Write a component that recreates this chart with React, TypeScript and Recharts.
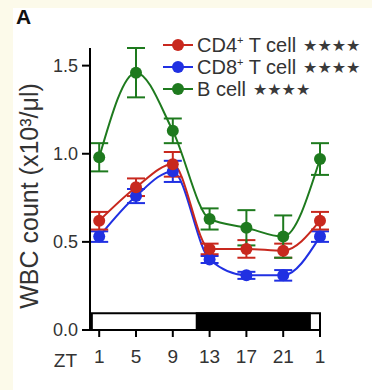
import {
  LineChart,
  Line,
  XAxis,
  YAxis,
  ErrorBar,
  ReferenceArea,
  Label,
  Legend,
} from "recharts";

// ZT hours (25 = ZT1 of the next day)
const ZT = [1, 5, 9, 13, 17, 21, 25];
const X_TICKS = [1, 5, 9, 13, 17, 21, 25];
const X_TICK_LABELS = ["1", "5", "9", "13", "17", "21", "1"];
const Y_TICKS = [0, 0.5, 1.0, 1.5];

const CD4 = [0.62, 0.81, 0.94, 0.46, 0.46, 0.45, 0.62];
const CD4_ERR = [0.05, 0.05, 0.07, 0.03, 0.05, 0.04, 0.05];
const CD8 = [0.53, 0.76, 0.9, 0.4, 0.31, 0.31, 0.53];
const CD8_ERR = [0.03, 0.04, 0.06, 0.02, 0.02, 0.03, 0.03];
const BCELL = [0.98, 1.46, 1.13, 0.63, 0.58, 0.53, 0.97];
const BCELL_ERR = [0.08, 0.14, 0.07, 0.06, 0.1, 0.12, 0.09];

// light / dark bar along the bottom (ZT hours)
const LIGHT_DARK = [
  { from: 0.2, to: 11.6, dark: false },
  { from: 11.6, to: 23.9, dark: true },
  { from: 23.9, to: 25, dark: false },
];
const BAR_Y = [0, 0.095];

const RED = "#c8281e";
const BLUE = "#2030e2";
const GREEN = "#1e7a1e";
const TEXT = "#333";
const FONT = "'Liberation Sans', Arial, sans-serif";

const SERIES = [
  { key: "cd8", err: "cd8Err", color: BLUE, name: "CD8", sup: "+" },
  { key: "cd4", err: "cd4Err", color: RED, name: "CD4", sup: "+" },
  { key: "b", err: "bErr", color: GREEN, name: "B cell", sup: "" },
];
const LEGEND_ORDER = ["cd4", "cd8", "b"];

const rows = ZT.map((zt, i) => ({
  zt,
  cd4: CD4[i],
  cd4Err: CD4_ERR[i],
  cd8: CD8[i],
  cd8Err: CD8_ERR[i],
  b: BCELL[i],
  bErr: BCELL_ERR[i],
}));

function LegendBox() {
  return (
    <svg width={210} height={70} style={{ display: "block", overflow: "visible" }}>
      {LEGEND_ORDER.map((k, i) => {
        const s = SERIES.find((x) => x.key === k)!;
        const y = 12 + i * 22;
        return (
          <g key={k}>
            <line x1={0} x2={30} y1={y} y2={y} stroke={s.color} strokeWidth={2} />
            <circle cx={15} cy={y} r={6} fill={s.color} />
            <text x={34} y={y + 7} fontSize={20} fill={TEXT} fontFamily={FONT}>
              {s.name}
              {s.sup && (
                <tspan fontSize={11} dy={-8}>
                  {s.sup}
                </tspan>
              )}
              {s.sup && <tspan dy={8}> T cell</tspan>}
              <tspan fontSize={16} dx={7} dy={-1} fill="#3a3a3a" fontFamily="DejaVu Sans">
                ★★★★
              </tspan>
            </text>
          </g>
        );
      })}
    </svg>
  );
}

function YTitle(props: any) {
  const vb = props.viewBox;
  const cx = vb.x + 38;
  const cy = vb.y + vb.height / 2 + 7;
  return (
    <text
      x={cx}
      y={cy}
      transform={`rotate(-90 ${cx} ${cy})`}
      textAnchor="middle"
      fontSize={25}
      fill={TEXT}
      fontFamily={FONT}
    >
      WBC count (x10³/μl)
    </text>
  );
}

export default function App() {
  return (
    <div
      style={{
        position: "absolute",
        left: 0,
        top: 0,
        width: 372,
        height: 390,
        background: "#fcfaea",
        fontFamily: FONT,
      }}
    >
      <div style={{ position: "absolute", left: 13, top: 8, right: 0, bottom: 0, background: "#fff" }} />
      <div
        style={{
          position: "absolute",
          left: 16,
          top: 5,
          fontSize: 21,
          fontWeight: 700,
          lineHeight: "24px",
          color: "#111",
        }}
      >
        A
      </div>
      <div style={{ position: "absolute", left: 0, top: 0 }}>
        <LineChart
          width={372}
          height={390}
          data={rows}
          margin={{ top: 48, right: 52, left: 0, bottom: 0 }}
          style={{ fontFamily: FONT }}
        >
          <XAxis
            dataKey="zt"
            type="number"
            domain={[0, 25]}
            ticks={X_TICKS}
            interval={0}
            tickFormatter={(v: number) => X_TICK_LABELS[X_TICKS.indexOf(v)]}
            height={60}
            axisLine={{ stroke: "#000", strokeWidth: 2 }}
            tickLine={{ stroke: "#000", strokeWidth: 2 }}
            tickSize={7}
            tickMargin={13}
            tick={{ fontSize: 19, fill: TEXT }}
          >
            <Label value="ZT" position="left" offset={13} style={{ fontSize: 19, fill: TEXT }} />
          </XAxis>
          <YAxis
            type="number"
            domain={[0, 1.6]}
            ticks={Y_TICKS}
            interval={0}
            tickFormatter={(v: number) => v.toFixed(1)}
            width={90}
            axisLine={{ stroke: "#000", strokeWidth: 2 }}
            tickLine={{ stroke: "#000", strokeWidth: 2 }}
            tickSize={8}
            tickMargin={4}
            tick={{ fontSize: 18, fill: TEXT }}
          >
            <Label content={<YTitle />} />
          </YAxis>
          <ReferenceArea
            x1={0.2}
            x2={25}
            y1={BAR_Y[0]}
            y2={BAR_Y[1]}
            fill="#fff"
            fillOpacity={1}
            stroke="#000"
            strokeWidth={2}
            ifOverflow="visible"
          />
          {LIGHT_DARK.filter((p) => p.dark).map((p) => (
            <ReferenceArea
              key={p.from}
              x1={p.from}
              x2={p.to}
              y1={BAR_Y[0]}
              y2={BAR_Y[1]}
              fill="#000"
              fillOpacity={1}
              stroke="#000"
              strokeWidth={2}
              ifOverflow="visible"
            />
          ))}
          {SERIES.map((s) => (
            <Line
              key={s.key}
              dataKey={s.key}
              type="monotone"
              stroke={s.color}
              strokeWidth={2}
              dot={{ r: 6, fill: s.color, stroke: s.color, strokeWidth: 0 }}
              isAnimationActive={false}
            >
              <ErrorBar dataKey={s.err} width={9} strokeWidth={2} stroke={s.color} direction="y" />
            </Line>
          ))}
          <Legend
            layout="vertical"
            align="center"
            verticalAlign="middle"
            wrapperStyle={{ top: 33, left: 163, width: 210 }}
            content={() => <LegendBox />}
          />
        </LineChart>
      </div>
    </div>
  );
}
